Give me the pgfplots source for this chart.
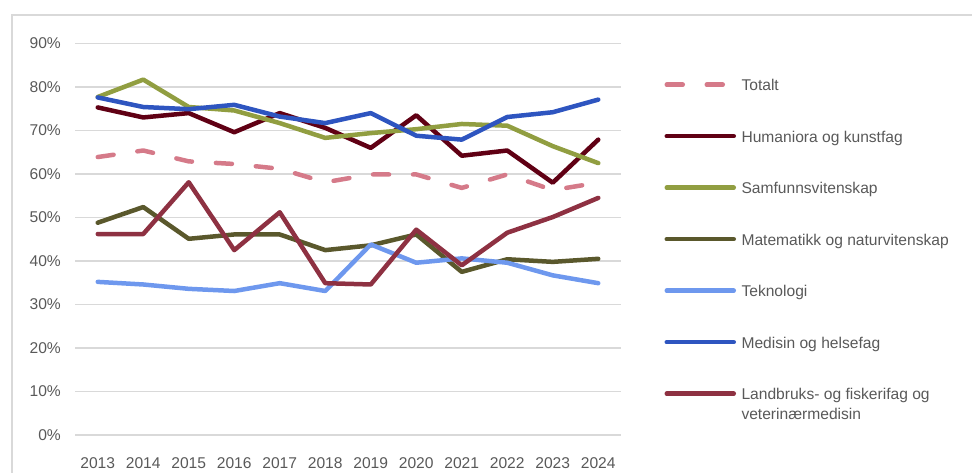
\documentclass[border=0pt]{standalone}
\usepackage{pgfplots}
\usepackage{pgfplotstable}
\pgfplotsset{compat=1.18}
\usepackage{fontspec}
\setmainfont{Liberation Sans}

\definecolor{gridc}{HTML}{D9D9D9}
\definecolor{textc}{HTML}{595959}
\definecolor{totc}{HTML}{D57A89}
\definecolor{humc}{HTML}{600014}
\definecolor{samc}{HTML}{919E41}
\definecolor{matc}{HTML}{5A582C}
\definecolor{tekc}{HTML}{6E98EE}
\definecolor{medc}{HTML}{2E55C0}
\definecolor{lanc}{HTML}{8E3142}

% andel i prosent
\pgfplotstableread{
year tot  hum  sam  mat  tek  med  lan
2013 63.9 75.3 77.7 48.8 35.2 77.6 46.2
2014 65.4 73.0 81.7 52.4 34.6 75.4 46.2
2015 62.9 74.0 75.4 45.1 33.6 74.9 58.1
2016 62.3 69.6 74.6 46.1 33.1 75.9 42.5
2017 61.2 74.0 71.7 46.1 34.9 73.2 51.2
2018 58.1 70.6 68.3 42.5 33.1 71.7 34.9
2019 59.9 66.0 69.4 43.6 43.8 74.0 34.6
2020 59.9 73.5 70.3 46.1 39.6 68.8 47.2
2021 56.8 64.2 71.5 37.5 40.6 67.9 39.0
2022 59.9 65.4 71.1 40.4 39.6 73.1 46.5
2023 56.3 58.0 66.4 39.8 36.7 74.2 50.1
2024 58.0 67.9 62.5 40.5 34.9 77.1 54.5
}\data

\begin{document}
\fontsize{15.6}{19.5}\selectfont
\begin{tikzpicture}
\useasboundingbox (0,0) rectangle (972pt,473pt);
\draw[gridc, line width=1.3pt] (12pt,0pt) -- (12pt,458pt) -- (972pt,458pt);
\begin{axis}[
  at={(75pt,38pt)}, anchor=south west,
  scale only axis, width=546pt, height=391.5pt,
  xmin=2012.5, xmax=2024.5, ymin=0, ymax=90,
  xtick={2013,...,2024},
  xticklabels={2013,2014,2015,2016,2017,2018,2019,2020,2021,2022,2023,2024},
  ytick={0,10,...,90},
  yticklabels={0\%,10\%,20\%,30\%,40\%,50\%,60\%,70\%,80\%,90\%},
  ymajorgrids, major grid style={gridc, line width=1.3pt},
  axis line style={draw=none}, tick style={draw=none},
  ticklabel style={text=textc, font=\fontsize{15.6}{19.5}\selectfont},
  yticklabel style={anchor=east, inner sep=0pt, xshift=-14pt},
  xticklabel style={anchor=north, inner sep=0pt, yshift=-22pt},
  every axis plot/.append style={line width=4.5pt, line join=round, line cap=round},
  legend style={at={(1.0751,0.9101)}, anchor=north west, draw=none, fill=none,
    inner sep=0pt, outer sep=0pt, row sep=35.5pt, column sep=0pt,
    cells={anchor=base west},
    nodes={inner sep=0pt, text height=12pt, text depth=4pt, text=textc,
      font=\fontsize{15.6}{19.5}\selectfont}},
  legend image code/.code={
    \draw[#1] (2.5pt,6pt) -- (69.5pt,6pt);
    \path (0pt,0pt) (75pt,0pt);},
]
\addplot[totc, dash pattern=on 16pt off 24pt] table[x=year, y=tot] {\data};
\addlegendentry{Totalt}
\addplot[humc] table[x=year, y=hum] {\data};
\addlegendentry{Humaniora og kunstfag}
\addplot[samc] table[x=year, y=sam] {\data};
\addlegendentry{Samfunnsvitenskap}
\addplot[matc] table[x=year, y=mat] {\data};
\addlegendentry{Matematikk og naturvitenskap}
\addplot[tekc] table[x=year, y=tek] {\data};
\addlegendentry{Teknologi}
\addplot[medc] table[x=year, y=med] {\data};
\addlegendentry{Medisin og helsefag}
\addplot[lanc] table[x=year, y=lan] {\data};
\addlegendentry{\begin{tabular}[t]{@{}l@{}}Landbruks- og fiskerifag og\\veterinærmedisin\end{tabular}}
\end{axis}
\end{tikzpicture}
\end{document}
